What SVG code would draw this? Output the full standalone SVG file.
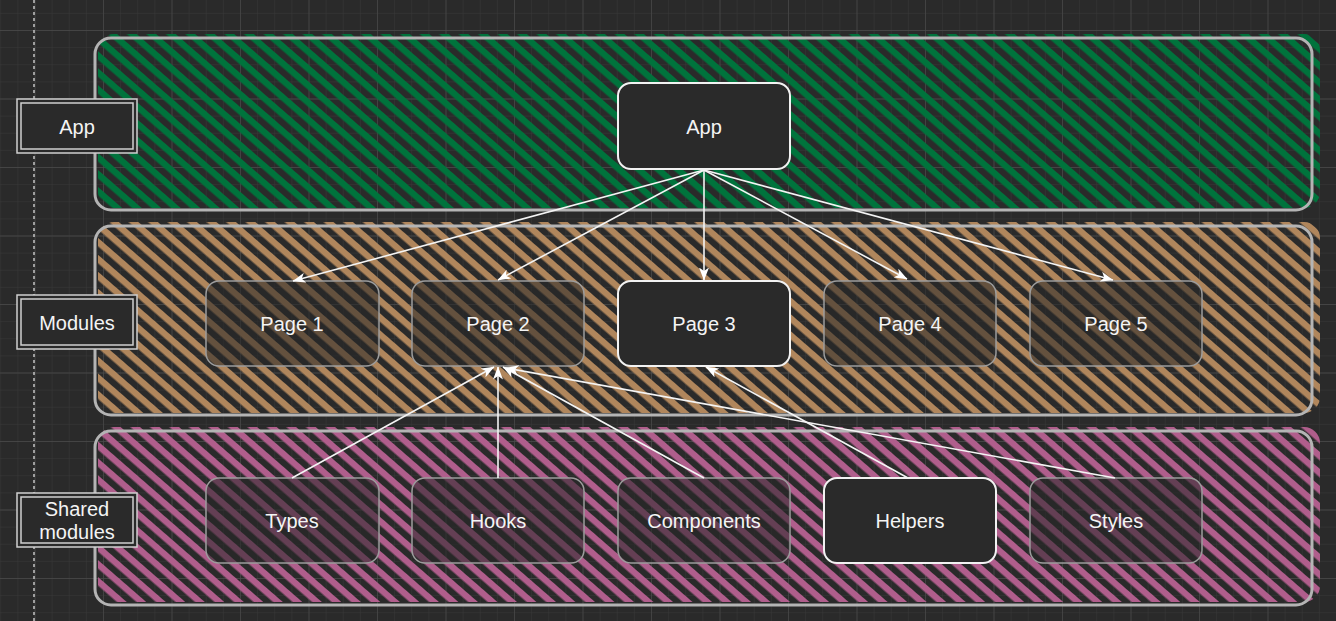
<svg xmlns="http://www.w3.org/2000/svg" width="1336" height="621" viewBox="0 0 1336 621">
<defs>
  <pattern id="gridMinor" patternUnits="userSpaceOnUse" x="0.25" y="12.875" width="17.125" height="17.125">
    <path d="M0,0 H17.125 M0,0 V17.125" fill="none" stroke="#393939" stroke-width="1"/>
  </pattern>
  <pattern id="gridMajor" patternUnits="userSpaceOnUse" x="34.5" y="30" width="68.5" height="68.5">
    <path d="M0,0 H68.5 M0,0 V68.5" fill="none" stroke="#4a4a4a" stroke-width="1.3"/>
  </pattern>
  <pattern id="hGreen" patternUnits="userSpaceOnUse" width="12.8" height="12.8" patternTransform="rotate(41)">
    <rect x="0" y="0" width="12.8" height="6.4" fill="#00733c"/>
  </pattern>
  <pattern id="hBrown" patternUnits="userSpaceOnUse" width="12.8" height="12.8" patternTransform="rotate(41)">
    <rect x="0" y="0" width="12.8" height="6.4" fill="#b0865c"/>
  </pattern>
  <pattern id="hPink" patternUnits="userSpaceOnUse" width="12.8" height="12.8" patternTransform="rotate(41)">
    <rect x="0" y="0" width="12.8" height="6.4" fill="#b05e8c"/>
  </pattern>
  <marker id="arr" markerUnits="userSpaceOnUse" viewBox="0 0 13 10" markerWidth="13" markerHeight="10" refX="12.5" refY="5" orient="auto">
    <path d="M0,0 L13,5 L0,10 L3.5,5 Z" fill="#ffffff"/>
  </marker>
  <style>
    .lane-border { fill: none; stroke: #b4b4b4; stroke-width: 3; }
    .soft { fill: rgba(38,38,38,0.55); stroke: #9c9c9c; stroke-width: 1.5; }
    .solid { fill: #2a2a2a; stroke: #f2f2f2; stroke-width: 2; }
    .lbl-outer { fill: #2a2a2a; stroke: #d0d0d0; stroke-width: 1.5; }
    .lbl-inner { fill: none; stroke: #d0d0d0; stroke-width: 1.5; }
    text { font-family: "Liberation Sans", Arial, sans-serif; font-size: 20px; fill: #f4f4f4; text-anchor: middle; }
    .edge { fill: none; stroke: #f4f4f4; stroke-width: 1.6; marker-end: url(#arr); }
  </style>
</defs>

<!-- background & grid -->
<rect x="0" y="0" width="1336" height="621" fill="#2a2a2a"/>
<rect x="0" y="0" width="1336" height="621" fill="url(#gridMinor)"/>
<rect x="0" y="0" width="1336" height="621" fill="url(#gridMajor)"/>
<line x1="34" y1="0" x2="34" y2="621" stroke="#c4c4c4" stroke-width="1.5" stroke-dasharray="3,3"/>

<!-- lanes -->
<g id="lane-app">
  <rect x="98" y="34" width="1222" height="174" rx="16" fill="url(#hGreen)"/>
  <rect class="lane-border" x="95" y="38" width="1217" height="172" rx="16"/>
</g>
<g id="lane-modules">
  <rect x="98" y="222" width="1222" height="191" rx="16" fill="url(#hBrown)"/>
  <rect class="lane-border" x="95" y="226" width="1217" height="189" rx="16"/>
</g>
<g id="lane-shared">
  <rect x="98" y="427" width="1222" height="175" rx="16" fill="url(#hPink)"/>
  <rect class="lane-border" x="95" y="431" width="1217" height="174" rx="16"/>
</g>

<!-- lane labels -->
<g id="label-app">
  <rect class="lbl-outer" x="17" y="99" width="120" height="54"/>
  <rect class="lbl-inner" x="21" y="103" width="112" height="46"/>
  <text x="77" y="134">App</text>
</g>
<g id="label-modules">
  <rect class="lbl-outer" x="17" y="295" width="120" height="54"/>
  <rect class="lbl-inner" x="21" y="299" width="112" height="46"/>
  <text x="77" y="330">Modules</text>
</g>
<g id="label-shared">
  <rect class="lbl-outer" x="17" y="493" width="120" height="54"/>
  <rect class="lbl-inner" x="21" y="497" width="112" height="46"/>
  <text x="77" y="516">Shared</text>
  <text x="77" y="539">modules</text>
</g>

<!-- nodes -->
<g id="node-app">
  <rect class="solid" x="618" y="83" width="172" height="86" rx="13"/>
  <text x="704" y="134">App</text>
</g>
<g id="node-page1">
  <rect class="soft" x="206" y="281" width="173" height="85" rx="13"/>
  <text x="292" y="331">Page 1</text>
</g>
<g id="node-page2">
  <rect class="soft" x="412" y="281" width="172" height="85" rx="13"/>
  <text x="498" y="331">Page 2</text>
</g>
<g id="node-page3">
  <rect class="solid" x="618" y="281" width="172" height="85" rx="13"/>
  <text x="704" y="331">Page 3</text>
</g>
<g id="node-page4">
  <rect class="soft" x="824" y="281" width="172" height="85" rx="13"/>
  <text x="910" y="331">Page 4</text>
</g>
<g id="node-page5">
  <rect class="soft" x="1030" y="281" width="172" height="85" rx="13"/>
  <text x="1116" y="331">Page 5</text>
</g>
<g id="node-types">
  <rect class="soft" x="206" y="478" width="173" height="85" rx="13"/>
  <text x="292" y="528">Types</text>
</g>
<g id="node-hooks">
  <rect class="soft" x="412" y="478" width="172" height="85" rx="13"/>
  <text x="498" y="528">Hooks</text>
</g>
<g id="node-components">
  <rect class="soft" x="618" y="478" width="172" height="85" rx="13"/>
  <text x="704" y="528">Components</text>
</g>
<g id="node-helpers">
  <rect class="solid" x="824" y="478" width="172" height="85" rx="13"/>
  <text x="910" y="528">Helpers</text>
</g>
<g id="node-styles">
  <rect class="soft" x="1030" y="478" width="172" height="85" rx="13"/>
  <text x="1116" y="528">Styles</text>
</g>

<!-- connectors -->
<g id="connectors">
  <line class="edge" x1="704" y1="170" x2="293" y2="281"/>
  <line class="edge" x1="704" y1="170" x2="498" y2="280"/>
  <line class="edge" x1="704" y1="170" x2="704" y2="280"/>
  <line class="edge" x1="704" y1="170" x2="907" y2="279"/>
  <line class="edge" x1="704" y1="170" x2="1113" y2="280"/>
  <line class="edge" x1="292" y1="478" x2="494" y2="367"/>
  <line class="edge" x1="498" y1="478" x2="498" y2="367"/>
  <line class="edge" x1="704" y1="478" x2="503" y2="367"/>
  <line class="edge" x1="1115" y1="478" x2="506" y2="368"/>
  <line class="edge" x1="908" y1="478" x2="706" y2="367"/>
</g>
</svg>
